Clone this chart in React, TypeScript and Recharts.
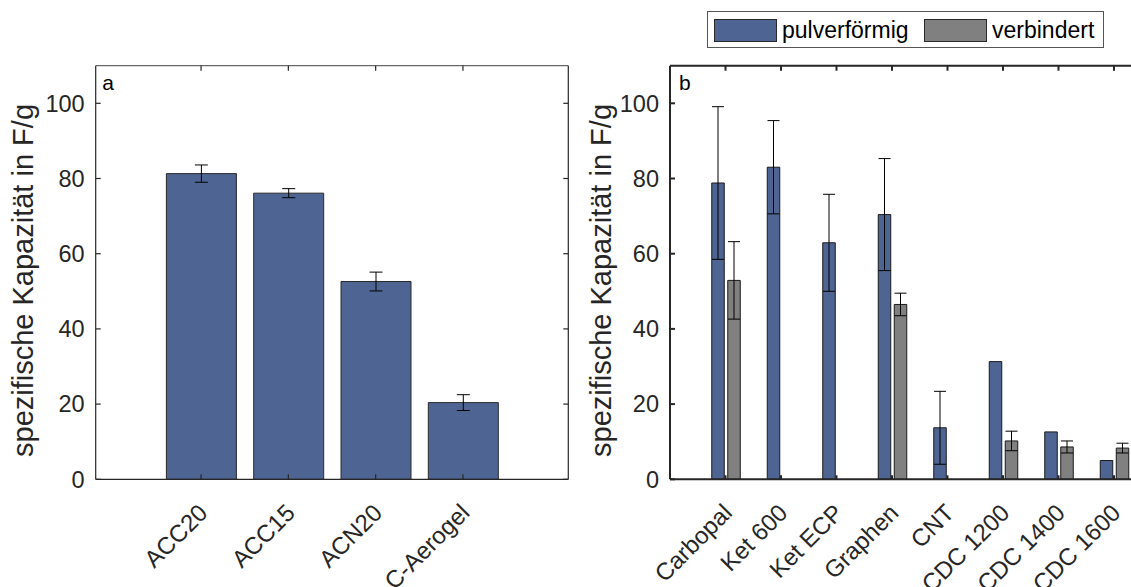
import { BarChart, Bar, XAxis, YAxis, ErrorBar, Legend } from "recharts";

const FONT = "'Liberation Sans', Arial, sans-serif";
const INK = "#262626";
const BLUE = "#4e6593";
const GRAY = "#808080";

// Teil a
const leftCategories = ["ACC20", "ACC15", "ACN20", "C-Aerogel"];
const leftValues = [81.3, 76.1, 52.6, 20.4];
const leftErrors = [2.3, 1.2, 2.5, 2.1];

// Teil b
const rightCategories = [
  "Carbopal",
  "Ket 600",
  "Ket ECP",
  "Graphen",
  "CNT",
  "CDC 1200",
  "CDC 1400",
  "CDC 1600",
];
const pulverValues = [78.8, 83.0, 62.9, 70.4, 13.7, 31.3, 12.6, 5.0];
const pulverErrors = [20.3, 12.4, 12.9, 14.9, 9.7, null, null, null];
const verbValues = [52.9, null, null, 46.5, null, 10.2, 8.6, 8.3];
const verbErrors = [10.3, null, null, 3.0, null, 2.6, 1.6, 1.3];

const yTicks = [0, 20, 40, 60, 80, 100];
const yDomain: [number, number] = [0, 110];
const yTitle = "spezifische Kapazität in F/g";

const leftData = leftCategories.map((name, i) => ({
  name,
  value: leftValues[i],
  err: leftErrors[i],
}));

const rightData = rightCategories.map((name, i) => ({
  name,
  pulver: pulverValues[i],
  pulverErr: pulverErrors[i],
  verb: verbValues[i],
  verbErr: verbErrors[i],
}));

function SlantTick({ x, y, payload }: any) {
  const ax = x + 2;
  const ay = y;
  return (
    <text
      x={ax}
      y={ay}
      transform={`rotate(-45 ${ax} ${ay})`}
      textAnchor="end"
      dominantBaseline="central"
      fontSize={24}
      fontFamily={FONT}
      fill={INK}
    >
      {payload.value}
    </text>
  );
}

// tick marks only, no text (box sides)
const NoTick = () => <g />;

const yLabel = (cx: number) => (props: any) => {
  const vb = props.viewBox;
  const cy = vb.y + vb.height / 2 + 8;
  return (
    <text
      x={cx}
      y={cy}
      transform={`rotate(-90 ${cx} ${cy})`}
      textAnchor="middle"
      dominantBaseline="central"
      fontSize={29}
      fontFamily={FONT}
      fill={INK}
    >
      {yTitle}
    </text>
  );
};

const panelLetter = (letter: string, dx: number) => (props: any) => {
  const vb = props.viewBox;
  return (
    <text
      x={vb.x + dx}
      y={vb.y + vb.height + 24}
      fontSize={21}
      fontFamily={FONT}
      fill="#000"
    >
      {letter}
    </text>
  );
};

function LegendBox() {
  const swatch = (color: string, left: number) => (
    <div
      style={{
        position: "absolute",
        left,
        top: 7,
        width: 63,
        height: 23,
        background: color,
        border: "1px solid #2a2a2a",
        boxSizing: "border-box",
      }}
    />
  );
  const label = (text: string, left: number) => (
    <span
      style={{
        position: "absolute",
        left,
        top: 18,
        transform: "translateY(-50%)",
        fontSize: 23,
        fontFamily: FONT,
        color: "#000",
        whiteSpace: "nowrap",
        lineHeight: 1,
      }}
    >
      {text}
    </span>
  );
  return (
    <div
      style={{
        position: "relative",
        width: 397,
        height: 37,
        border: "1px solid #555",
        boxSizing: "border-box",
        background: "#fff",
      }}
    >
      {swatch(BLUE, 6)}
      {label("pulverförmig", 74)}
      {swatch(GRAY, 216)}
      {label("verbindert", 284)}
    </div>
  );
}

export default function App() {
  return (
    <div
      style={{
        position: "fixed",
        left: 0,
        top: 0,
        width: 1131,
        height: 587,
        overflow: "hidden",
        background: "#fff",
        fontFamily: FONT,
      }}
    >
      {/* a */}
      <div style={{ position: "absolute", left: 0, top: 0 }}>
        <BarChart
          width={600}
          height={587}
          data={leftData}
          margin={{ top: 60.7, right: 21.7, bottom: 77.7, left: 35.7 }}
          barSize={70}
        >
          <XAxis
            dataKey="name"
            padding={{ left: 61.7, right: 61.7 }}
            height={30}
            axisLine={{ stroke: INK, strokeWidth: 1.2 }}
            tickLine={{ stroke: INK, strokeWidth: 1.2 }}
            tickSize={-5}
            tickMargin={34}
            tick={<SlantTick />}
            interval={0}
          />
          <XAxis
            xAxisId="top"
            orientation="top"
            dataKey="name"
            padding={{ left: 61.7, right: 61.7 }}
            height={5}
            axisLine={{ stroke: "#444", strokeWidth: 1 }}
            tickLine={{ stroke: INK, strokeWidth: 1.2 }}
            tickSize={-5}
            tick={<NoTick />}
            interval={0}
            label={panelLetter("a", 6.5)}
          />
          <YAxis
            domain={yDomain}
            ticks={yTicks}
            width={60}
            interval={0}
            axisLine={{ stroke: INK, strokeWidth: 1.2 }}
            tickLine={{ stroke: INK, strokeWidth: 1.2 }}
            tickSize={-5}
            tickMargin={16}
            tick={{ fontSize: 23.5, fill: INK, fontFamily: FONT }}
            label={yLabel(23)}
          />
          <YAxis
            yAxisId="right"
            orientation="right"
            domain={yDomain}
            ticks={yTicks}
            width={10}
            allowDataOverflow
            axisLine={{ stroke: INK, strokeWidth: 1.2 }}
            tickLine={{ stroke: INK, strokeWidth: 1.2 }}
            tickSize={-5}
            tick={<NoTick />}
          />
          <Bar
            dataKey="value"
            fill={BLUE}
            stroke="#2a2a2a"
            strokeWidth={1}
            isAnimationActive={false}
          >
            <ErrorBar
              dataKey="err"
              width={6.5}
              stroke="#000"
              strokeWidth={1}
              direction="y"
              isAnimationActive={false}
            />
          </Bar>
        </BarChart>
      </div>

      {/* b */}
      <div style={{ position: "absolute", left: 580, top: 0 }}>
        <BarChart
          width={620}
          height={587}
          data={rightData}
          margin={{ top: 60.7, right: 20.5, bottom: 77.7, left: 30 }}
          barSize={12.5}
          barGap={3.5}
        >
          <XAxis
            dataKey="name"
            padding={{ left: 27.75, right: 27.75 }}
            height={30}
            axisLine={{ stroke: INK, strokeWidth: 2 }}
            tickLine={{ stroke: INK, strokeWidth: 2 }}
            tickSize={-4}
            tickMargin={33}
            tick={<SlantTick />}
            interval={0}
          />
          <XAxis
            xAxisId="top"
            orientation="top"
            dataKey="name"
            padding={{ left: 27.75, right: 27.75 }}
            height={5}
            axisLine={{ stroke: INK, strokeWidth: 2 }}
            tickLine={{ stroke: INK, strokeWidth: 2 }}
            tickSize={-5}
            tick={<NoTick />}
            interval={0}
            label={panelLetter("b", 9)}
          />
          <YAxis
            domain={yDomain}
            ticks={yTicks}
            width={60}
            interval={0}
            axisLine={{ stroke: INK, strokeWidth: 2 }}
            tickLine={{ stroke: INK, strokeWidth: 2 }}
            tickSize={-5}
            tickMargin={16}
            tick={{ fontSize: 23.5, fill: INK, fontFamily: FONT }}
            label={yLabel(21)}
          />
          <YAxis
            yAxisId="right"
            orientation="right"
            domain={yDomain}
            ticks={yTicks}
            width={10}
            allowDataOverflow
            axisLine={{ stroke: INK, strokeWidth: 2 }}
            tickLine={{ stroke: INK, strokeWidth: 2 }}
            tickSize={-5}
            tick={<NoTick />}
          />
          <Legend
            layout="vertical"
            align="center"
            verticalAlign="middle"
            wrapperStyle={{ left: 127, top: 11, width: 397, height: 37 }}
            content={<LegendBox />}
          />
          <Bar
            dataKey="pulver"
            name="pulverförmig"
            fill={BLUE}
            stroke="#1a1a1a"
            strokeWidth={1}
            isAnimationActive={false}
          >
            <ErrorBar
              dataKey="pulverErr"
              width={6}
              stroke="#000"
              strokeWidth={1}
              direction="y"
              isAnimationActive={false}
            />
          </Bar>
          <Bar
            dataKey="verb"
            name="verbindert"
            fill={GRAY}
            stroke="#1a1a1a"
            strokeWidth={1}
            isAnimationActive={false}
          >
            <ErrorBar
              dataKey="verbErr"
              width={6}
              stroke="#000"
              strokeWidth={1}
              direction="y"
              isAnimationActive={false}
            />
          </Bar>
        </BarChart>
      </div>
    </div>
  );
}
